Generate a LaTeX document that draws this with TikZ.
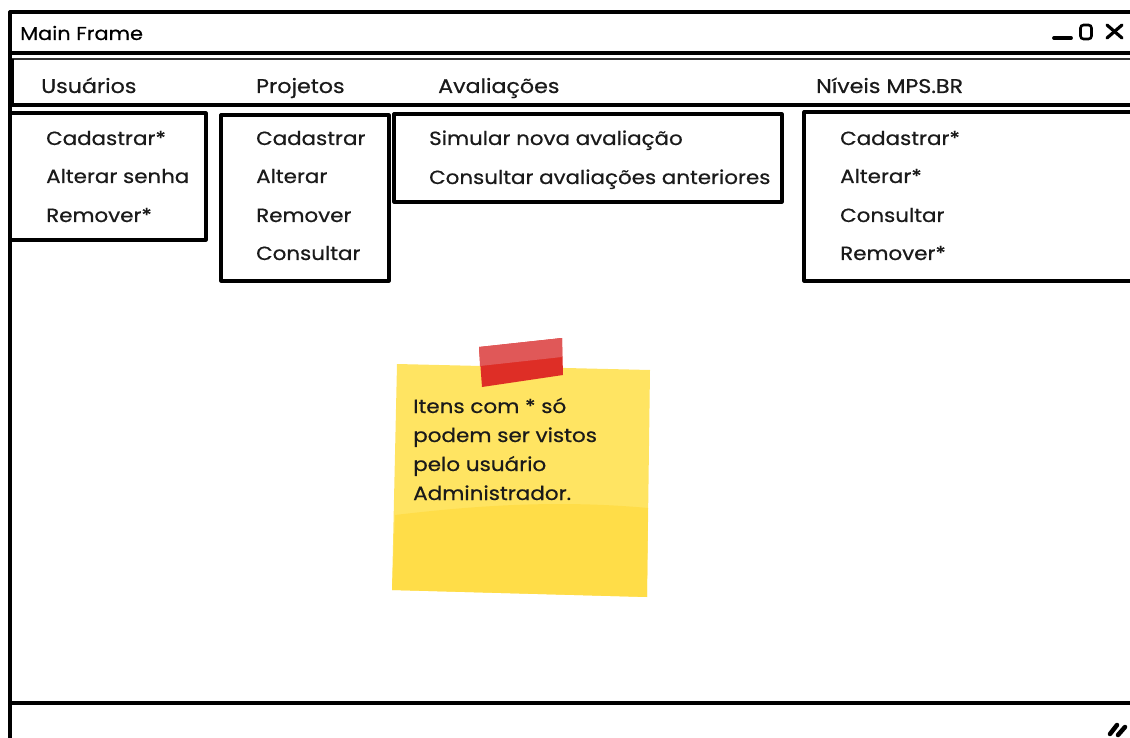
\documentclass[tikz,border=0pt]{standalone}
\usepackage{fontspec}
\setmainfont{Poppins}[FakeStretch=1.12,FakeBold=0.6]
\definecolor{ink}{HTML}{1A1A1A}
\definecolor{noteA}{HTML}{FFE462}
\definecolor{noteB}{HTML}{FFDD48}
\definecolor{tapeA}{HTML}{E05858}
\definecolor{tapeB}{HTML}{DE2E26}
\begin{document}
\begin{tikzpicture}[x=1pt,y=-1pt,
  frame/.style={line width=3.2pt,draw=black,line join=round},
  thin frame/.style={line width=1.6pt,draw=black!80},
  menubox/.style={line width=3.2pt,draw=black,fill=white,line join=round},
  item/.style={anchor=base west,inner sep=0pt,text=ink,font=\fontsize{19.1}{22}\selectfont},
  menu/.style={anchor=base west,inner sep=0pt,text=ink,font=\fontsize{19.8}{22}\selectfont},
  title/.style={anchor=base west,inner sep=0pt,text=black,font=\fontsize{18.6}{21}\selectfont},
  notetext/.style={anchor=base west,inner sep=0pt,text=ink,font=\fontsize{19.2}{21}\selectfont},
  ctrl/.style={line width=3.2pt,draw=black,line cap=round}]
\useasboundingbox (0,0) rectangle (1130,738);
% outer frame
\draw[frame] (10,740) -- (10,12) -- (1135,12);
\draw[frame] (10,53) -- (1135,53);
\draw[thin frame] (12,59) -- (1135,59);
\draw[frame] (12,59) -- (12,105) -- (1135,105);
\draw[frame] (10,703) -- (1135,703);
% title bar
\node[title] (title) at (20,40) {Main Frame};
\coordinate (minA) at (1054,38);
\coordinate (minB) at (1071,38);
\draw[ctrl,line width=3.8pt] (minA) -- (minB);
\draw[line width=2.6pt,rounded corners=3pt] (1080.5,25) rectangle (1091.5,39);
\draw[ctrl] (1107,25) -- (1122,38);
\draw[ctrl] (1107,38) -- (1122,25);
% menu bar
\node[menu] (mUsu) at (41,93) {Usuários};
\node[menu] (mPro) at (256,93) {Projetos};
\node[menu] (mAva) at (438,93) {Avaliações};
\node[menu] (mNiv) at (816,93) {Níveis MPS.BR};
% dropdowns
\draw[menubox] (10,113) rectangle (206,240);
\draw[menubox] (221,115) rectangle (389,281);
\draw[menubox] (394,114) rectangle (782,202);
\draw[menubox] (1135,112) -- (804,112) -- (804,281) -- (1135,281);
\node[item] (u1) at (46,145) {Cadastrar*};
\node[item] (u2) at (46,183) {Alterar senha};
\node[item] (u3) at (46,222) {Remover*};
\node[item] (p1) at (256,145) {Cadastrar};
\node[item] (p2) at (256,183) {Alterar};
\node[item] (p3) at (256,222) {Remover};
\node[item] (p4) at (256,260) {Consultar};
\node[item] (a1) at (429,145) {Simular nova avaliação};
\node[item] (a2) at (429,184) {Consultar avaliações anteriores};
\node[item] (n1) at (840,145) {Cadastrar*};
\node[item] (n2) at (840,183) {Alterar*};
\node[item] (n3) at (840,222) {Consultar};
\node[item] (n4) at (840,260) {Remover*};
% sticky note
\fill[noteA] (397,364) -- (650,370) -- (647,597) -- (392,590) -- cycle;
\fill[noteB] (395,515) .. controls (480,505) and (560,500) .. (648,508) -- (647,597) -- (392,590) -- cycle;
\fill[tapeB] (479,347) -- (562,338) -- (563,375) -- (482,387) -- cycle;
\fill[tapeA] (479,347) -- (562,338) -- (562,357) -- (480,366) -- cycle;
\node[notetext] (t1) at (413,413) {Itens com * só};
\node[notetext] (t2) at (413,442) {podem ser vistos};
\node[notetext] (t3) at (413,471) {pelo usuário};
\node[notetext] (t4) at (413,500) {Administrador.};
% resize grip
\draw[ctrl,line width=4.5pt] (1110,734) -- (1117,725);
\draw[ctrl,line width=4.5pt] (1118,735) -- (1125,727);
\end{tikzpicture}
\end{document}
